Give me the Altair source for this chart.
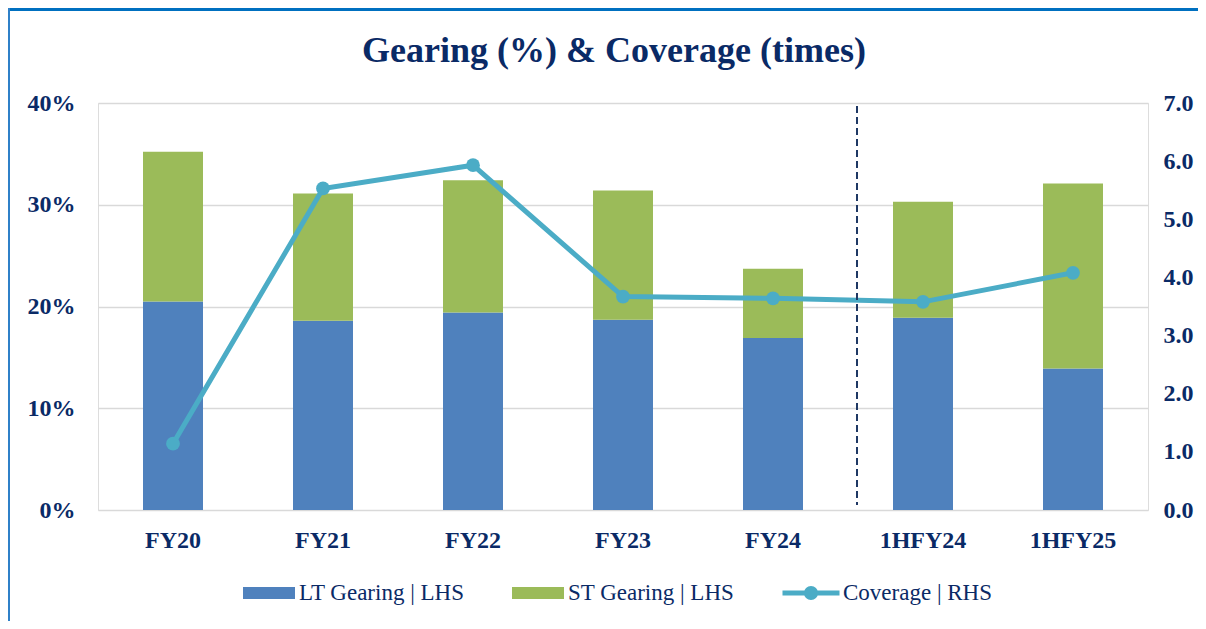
import altair as alt
import pandas as pd

categories = ["FY20", "FY21", "FY22", "FY23", "FY24", "1HFY24", "1HFY25"]
lt_gearing = [0.205, 0.186, 0.194, 0.187, 0.169, 0.189, 0.139]
st_gearing = [0.147, 0.125, 0.130, 0.127, 0.068, 0.114, 0.182]
coverage = [1.14, 5.53, 5.93, 3.67, 3.64, 3.58, 4.08]
series_names = ["LT Gearing | LHS", "ST Gearing | LHS"]
line_name = "Coverage | RHS"
title_text = "Gearing (%) & Coverage (times)"
divider_after = "FY24"

TEXT = "#0A2A66"
FONT = "Liberation Serif"
GRID = "#D9D9D9"

rows = []
for c, lt, st in zip(categories, lt_gearing, st_gearing):
    rows.append({"cat": c, "series": series_names[0], "value": lt, "ord": 0})
    rows.append({"cat": c, "series": series_names[1], "value": st, "ord": 1})
bars_df = pd.DataFrame(rows)
line_df = pd.DataFrame({"cat": categories, "coverage": coverage, "series": line_name})
div_df = pd.DataFrame({"cat": [divider_after], "y1": [0.397], "y2": [0.005]})

x_enc = alt.X(
    "cat:N", sort=categories,
    scale=alt.Scale(paddingInner=0.6, paddingOuter=0.3),
    axis=alt.Axis(title=None, labelAngle=0, labelFont=FONT, labelFontSize=24,
                  labelFontWeight="bold", labelColor=TEXT, labelPadding=18,
                  ticks=False, domain=False),
)

bars = alt.Chart(bars_df).mark_bar().encode(
    x=x_enc,
    y=alt.Y("value:Q", stack="zero", scale=alt.Scale(domain=[0, 0.4]),
            axis=alt.Axis(title=None, format=".0%", values=[0, 0.1, 0.2, 0.3, 0.4],
                          labelFont=FONT, labelFontSize=24, labelFontWeight="bold",
                          labelColor=TEXT, labelPadding=23, ticks=False, domain=False,
                          grid=True, gridColor=GRID, gridWidth=1.5)),
    color=alt.Color("series:N",
                    scale=alt.Scale(domain=series_names, range=["#4F81BD", "#9BBB59"]),
                    legend=alt.Legend(title=None, orient="none", legendX=145, legendY=464,
                                      direction="horizontal", labelFont=FONT, labelFontSize=23,
                                      labelColor=TEXT, labelOffset=4, columnPadding=47,
                                      labelLimit=0,
                                      symbolType="M-1,-0.23H1V0.23H-1Z", symbolSize=2704,
                                      symbolStrokeWidth=0)),
    order=alt.Order("ord:Q"),
)

line = alt.Chart(line_df).mark_line(
    strokeWidth=5,
    point=alt.OverlayMarkDef(size=190, filled=True, color="#4BACC6"),
).encode(
    x=alt.X("cat:N", sort=categories),
    y=alt.Y("coverage:Q", scale=alt.Scale(domain=[0, 7]),
            axis=alt.Axis(title=None, orient="right", format=".1f",
                          values=[0, 1, 2, 3, 4, 5, 6, 7], labelFont=FONT, labelFontSize=24,
                          labelFontWeight="bold", labelColor=TEXT, labelPadding=15,
                          ticks=False, domain=False, grid=False)),
    color=alt.Color("series:N", scale=alt.Scale(domain=[line_name], range=["#4BACC6"]),
                    legend=alt.Legend(title=None, orient="none", legendX=682, legendY=459,
                                      labelFont=FONT, labelFontSize=23, labelColor=TEXT,
                                      labelOffset=1, labelLimit=0,
                                      symbolType="M-1,0H1M-0.16,0A0.16,0.16,0,1,1,0.16,0A0.16,0.16,0,1,1,-0.16,0Z",
                                      symbolSize=3249, symbolStrokeWidth=5,
                                      symbolFillColor="#4BACC6", symbolStrokeColor="#4BACC6")),
)

divider = alt.Chart(div_df).mark_rule(
    strokeDash=[7, 4], strokeWidth=2, color="#1F3864", xOffset=54
).encode(
    x=alt.X("cat:N", sort=categories, bandPosition=1),
    y=alt.Y("y1:Q", scale=alt.Scale(domain=[0, 0.4]), axis=None),
    y2="y2:Q",
)

title = alt.Chart(alt.Data(values=[{}])).mark_text(
    font=FONT, fontSize=36, fontWeight="bold", color=TEXT, align="center", baseline="alphabetic"
).encode(x=alt.value(516), y=alt.value(-41), text=alt.value(title_text))

frame_top = alt.Chart(alt.Data(values=[{}])).mark_rule(color="#0070C0", strokeWidth=3).encode(
    x=alt.value(-90), x2=alt.value(1110), y=alt.value(-93.5)
)
frame_left = alt.Chart(alt.Data(values=[{}])).mark_rule(color="#2F80C8", strokeWidth=2).encode(
    x=alt.value(-89), y=alt.value(-95), y2=alt.value(520)
)

chart = alt.layer(bars, line, divider, title, frame_top, frame_left).resolve_scale(
    y="independent", color="independent"
).properties(
    width=1050, height=407,
    padding={"left": 90, "top": 95, "right": 50, "bottom": 111},
    autosize=alt.AutoSizeParams(type="none"),
).configure_view(stroke=None).configure(background="white")

chart.save("out.html", embed_options={"renderer": "svg", "actions": False})
